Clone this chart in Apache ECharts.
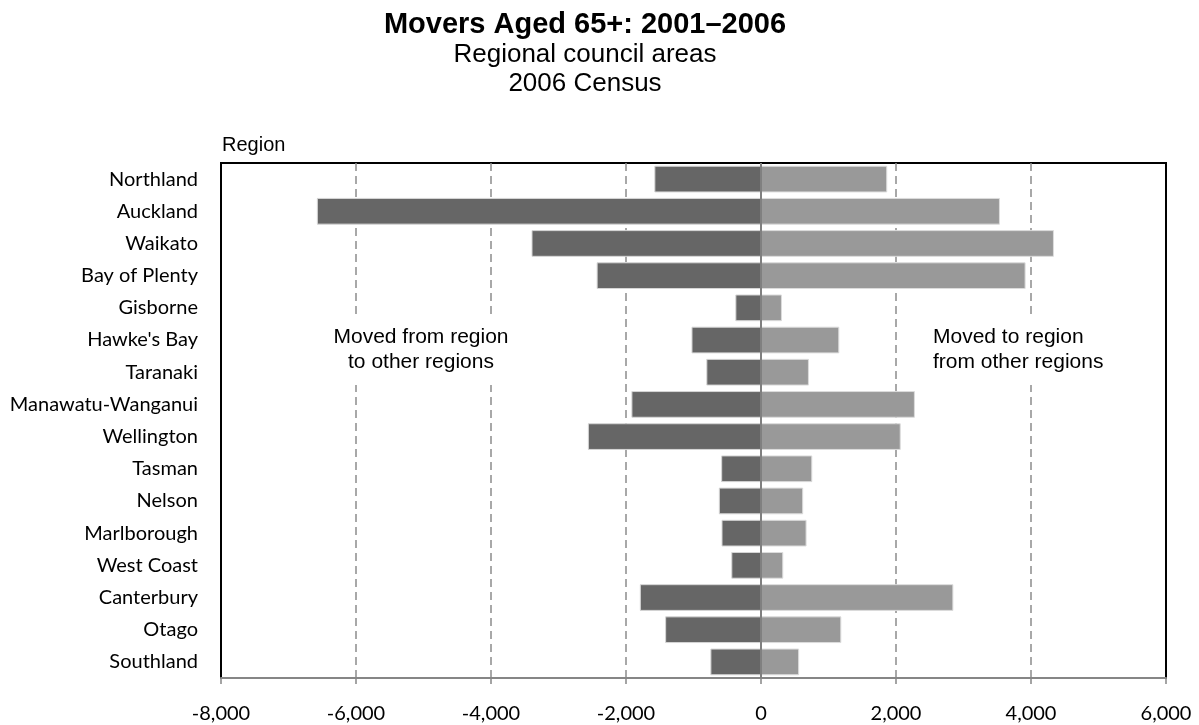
<!DOCTYPE html>
<html>
<head>
<meta charset="utf-8">
<title>Movers Aged 65+: 2001–2006</title>
<script src="https://cdn.jsdelivr.net/npm/echarts@6/dist/echarts.min.js"></script>
<style>
  html, body { margin: 0; padding: 0; background: #fff; }
  #chart { width: 1199px; height: 725px; }
</style>
</head>
<body>
<div id="chart"></div>
<script>
// regional council areas, top to bottom
const regions = [
  'Northland', 'Auckland', 'Waikato', 'Bay of Plenty', 'Gisborne', "Hawke's Bay",
  'Taranaki', 'Manawatu-Wanganui', 'Wellington', 'Tasman', 'Nelson',
  'Marlborough', 'West Coast', 'Canterbury', 'Otago', 'Southland'
]
// people aged 65+ who left the region (plotted to the left)
const movedFrom = [1580, 6580, 3400, 2435, 380, 1030, 810, 1920, 2565, 590, 625, 585, 440, 1795, 1420, 750]
// people aged 65+ who arrived in the region (plotted to the right)
const movedTo = [1870, 3540, 4340, 3920, 310, 1160, 710, 2280, 2070, 760, 625, 675, 330, 2850, 1190, 565]

const xMin = -8000
const xMax = 6000
const xStep = 2000

const labelFont = 'Lato, "Noto Sans", sans-serif'
const textFont = '"Liberation Sans", Arial, sans-serif'

const chart = echarts.init(document.getElementById('chart'))

chart.setOption({
  animation: false,
  backgroundColor: '#fff',
  title: [
    {
      text: 'Movers Aged 65+: 2001–2006',
      left: 585,
      top: 10,
      textAlign: 'center',
      padding: 0,
      textStyle: { fontFamily: textFont, fontSize: 29, fontWeight: 'bold', color: '#000' }
    },
    {
      text: 'Regional council areas',
      left: 585,
      top: 42,
      textAlign: 'center',
      padding: 0,
      textStyle: { fontFamily: textFont, fontSize: 26, fontWeight: 'normal', color: '#000' }
    },
    {
      text: '2006 Census',
      left: 585,
      top: 71,
      textAlign: 'center',
      padding: 0,
      textStyle: { fontFamily: textFont, fontSize: 26, fontWeight: 'normal', color: '#000' }
    },
    {
      text: 'Region',
      left: 222,
      top: 135,
      padding: 0,
      textStyle: { fontFamily: textFont, fontSize: 20, fontWeight: 'normal', color: '#000' }
    }
  ],
  grid: {
    left: 221,
    right: 33,
    top: 163,
    bottom: 47,
    show: true,
    borderColor: '#000',
    borderWidth: 2,
    backgroundColor: 'transparent'
  },
  xAxis: {
    type: 'value',
    min: xMin,
    max: xMax,
    interval: xStep,
    axisLine: { show: true, lineStyle: { color: '#868686', width: 2 } },
    axisTick: { show: true, length: 6, lineStyle: { color: '#868686', width: 1.5 } },
    axisLabel: {
      margin: 26,
      fontFamily: labelFont,
      fontSize: 20,
      color: '#000',
      formatter: (v) => v.toLocaleString('en-US')
    },
    splitLine: {
      show: true,
      showMinLine: false,
      showMaxLine: false,
      lineStyle: { type: [8, 5], color: '#8c8c8c', width: 1.5 }
    }
  },
  yAxis: {
    type: 'category',
    data: regions,
    inverse: true,
    axisLine: { show: false },
    axisTick: { show: false },
    axisLabel: {
      margin: 23,
      fontFamily: labelFont,
      fontSize: 20,
      color: '#000'
    },
    splitLine: { show: false }
  },
  series: [
    {
      name: 'Moved from region to other regions',
      type: 'bar',
      data: movedFrom.map((v) => -v),
      barGap: '-100%',
      barCategoryGap: '17%',
      itemStyle: { color: '#666666', borderColor: '#d6d6d6', borderWidth: 1 }
    },
    {
      name: 'Moved to region from other regions',
      type: 'bar',
      data: movedTo,
      barGap: '-100%',
      barCategoryGap: '17%',
      itemStyle: { color: '#999999', borderColor: '#dcdcdc', borderWidth: 1 },
      markLine: {
        silent: true,
        symbol: ['none', 'none'],
        label: { show: false },
        lineStyle: { color: '#808080', width: 2, type: 'solid' },
        data: [{ xAxis: 0 }]
      }
    }
  ],
  graphic: [
    {
      type: 'text',
      x: 421,
      y: 350,
      z: 100,
      style: {
        text: 'Moved from region\nto other regions',
        font: '21px ' + textFont,
        fill: '#000',
        align: 'center',
        verticalAlign: 'middle',
        textAlign: 'center',
        textVerticalAlign: 'middle',
        lineHeight: 25,
        backgroundColor: '#fff',
        padding: [10, 6]
      }
    },
    {
      type: 'text',
      x: 927,
      y: 350,
      z: 100,
      style: {
        text: 'Moved to region\nfrom other regions',
        font: '21px ' + textFont,
        fill: '#000',
        align: 'left',
        verticalAlign: 'middle',
        textAlign: 'left',
        textVerticalAlign: 'middle',
        lineHeight: 25,
        backgroundColor: '#fff',
        padding: [10, 6]
      }
    }
  ]
})

window.addEventListener('resize', () => {
  chart.resize()
})
</script>
</body>
</html>
